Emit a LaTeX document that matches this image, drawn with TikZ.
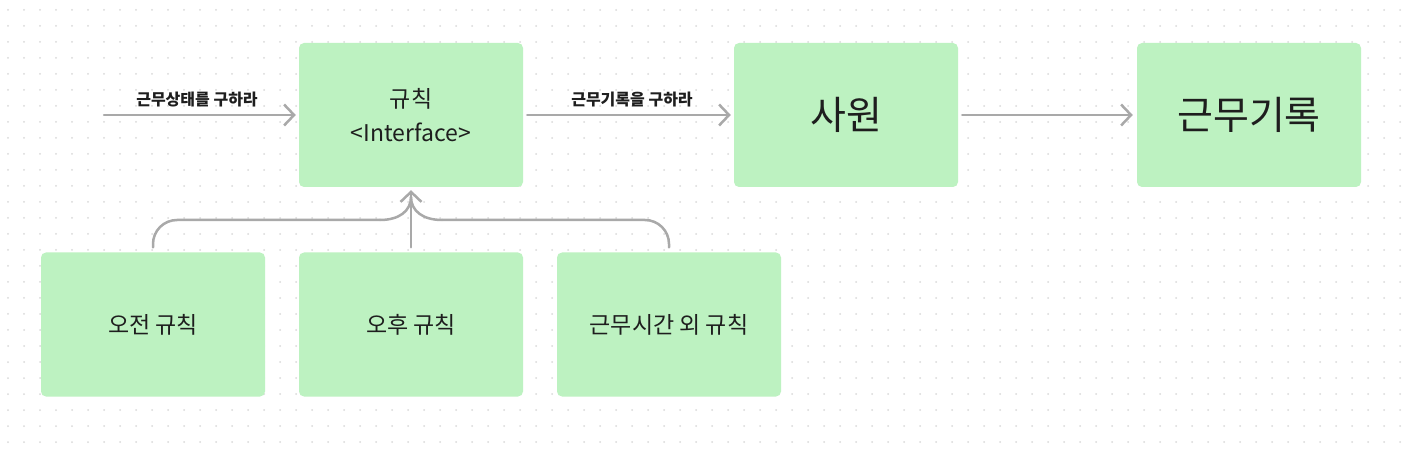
\documentclass[tikz,border=0pt]{standalone}
\usepackage{fontspec}
\setmainfont{Noto Sans CJK KR}
\usetikzlibrary{arrows.meta}
\definecolor{boxgreen}{HTML}{BDF2C1}
\definecolor{linegray}{HTML}{A9A9A9}
\definecolor{inkdark}{HTML}{1E1E1E}
\definecolor{dotgray}{HTML}{DADADA}

\begin{document}
\begin{tikzpicture}[
  x=1pt,y=-1pt,
  box/.style={fill=boxgreen,rounded corners=5pt,minimum width=224pt,minimum height=144pt,inner sep=0pt,text=inkdark,align=center},
  small/.style={font=\fontsize{23pt}{34pt}\selectfont},
  big/.style={font=\fontsize{39pt}{46pt}\selectfont},
  link/.style={draw=linegray,line width=2.5pt,line cap=round,line join=round},
  tip/.style={link,-{Straight Barb[length=10pt,width=21pt]}},
  verb/.style={font=\fontsize{16pt}{19pt}\selectfont\bfseries,text=inkdark,inner sep=0pt}
]
  \fill[white] (0,0) rectangle (1403,454);
  \foreach \x in {8,24,...,1400}
    \foreach \y in {10,26,...,450}
      \fill[dotgray] (\x,\y) circle (1pt);

  \node[box,small] (rule) at (411,115) {규칙\\<Interface>};
  \node[box,big] (emp) at (846,115) {사원};
  \node[box,big] (rec) at (1249,115) {근무기록};
  \node[box,small] (am) at (153,324.5) {오전 규칙};
  \node[box,small] (pm) at (411,324.5) {오후 규칙};
  \node[box,small] (off) at (669,324.5) {근무시간 외 규칙};

  \node[verb] (ask1) at (197,100) {근무상태를 구하라};
  \node[verb] (ask2) at (632,100) {근무기록을 구하라};

  \coordinate (start) at (104,115);
  \coordinate (meet) at (411,197);
  \coordinate (lbend) at (380,220);
  \coordinate (rbend) at (442,220);

  \draw[tip,shorten >=3pt] (start) -- (rule.west);
  \draw[tip,shorten <=4pt,shorten >=3pt] (rule) -- (emp);
  \draw[tip,shorten <=4pt,shorten >=4pt] (emp) -- (rec);
  \draw[tip,shorten <=5pt,shorten >=3pt] (pm) -- (rule);
  \draw[link,rounded corners=24pt] ([yshift=5pt]am.north) |- (lbend);
  \draw[link] (lbend) .. controls (399,220) and (411,211) .. (meet);
  \draw[link,rounded corners=24pt] ([yshift=5pt]off.north) |- (rbend);
  \draw[link] (rbend) .. controls (423,220) and (411,211) .. (meet);
\end{tikzpicture}
\end{document}
